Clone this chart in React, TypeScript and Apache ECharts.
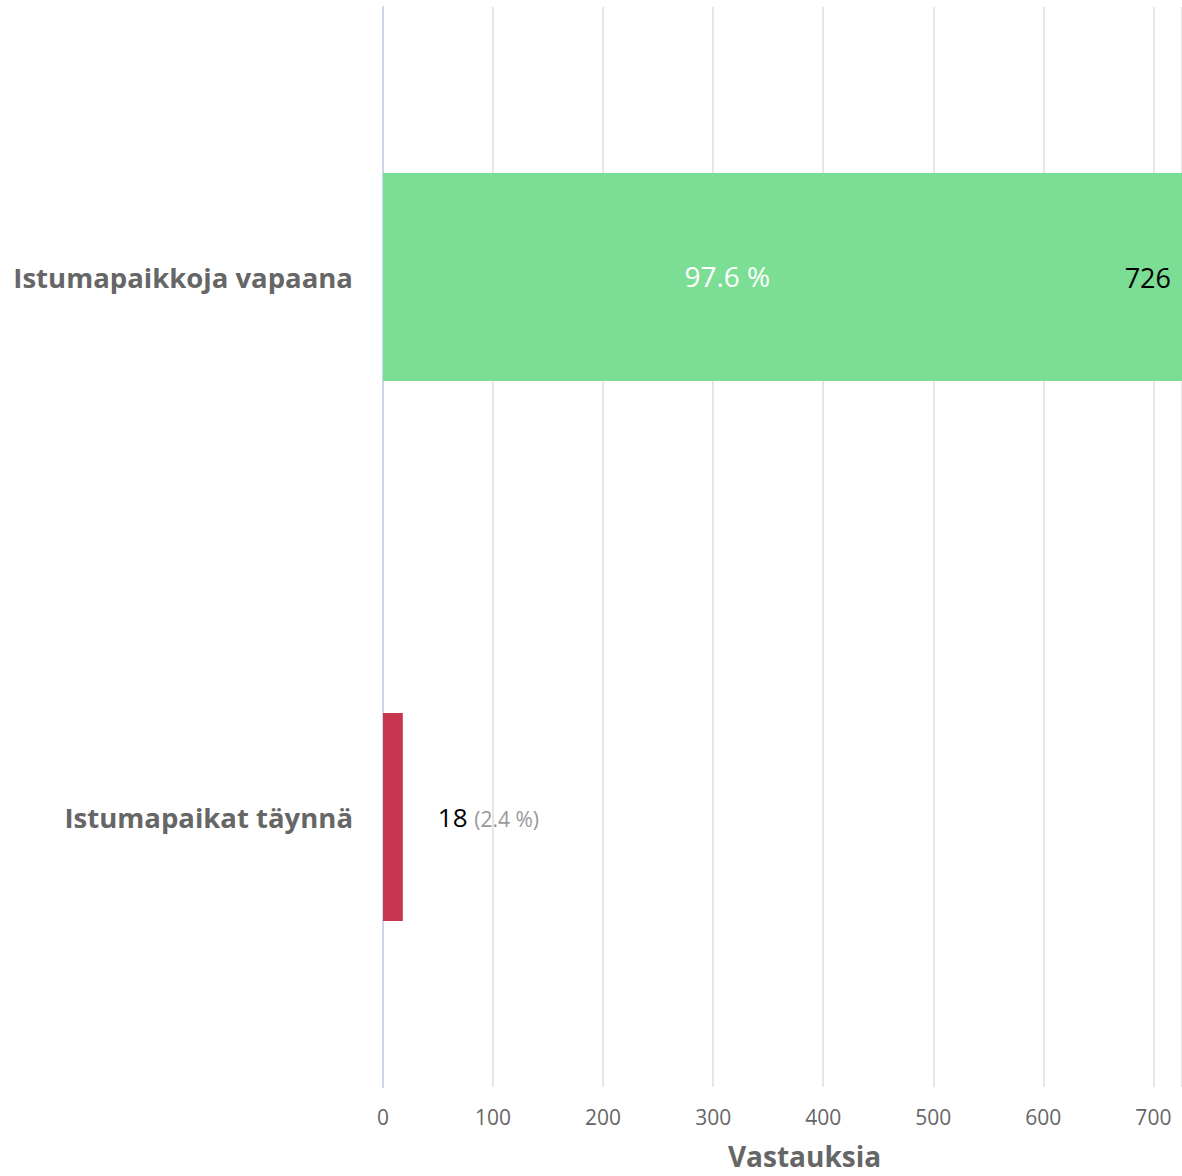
import React, { useEffect, useRef } from "react";
import * as echarts from "echarts";

const categories = ["Istumapaikkoja vapaana", "Istumapaikat täynnä"];
const values = [726, 18];
const percents = [97.6, 2.4];
const colors = ["#7bde94", "#c8354f"];
const xTicks = { min: 0, max: 726, interval: 100 };

export default function App() {
  const ref = useRef<HTMLDivElement>(null);
  useEffect(() => {
    const chart = echarts.init(ref.current!, null, { renderer: "svg" });
    const font = "'Open Sans', 'Noto Sans', sans-serif";
    const mainData = values.map((v, i) => ({
      value: v,
      itemStyle: { color: colors[i] },
      label:
        i === 0
          ? {
              show: true,
              position: "insideRight",
              distance: 11,
              formatter: String(v),
              color: "#000",
              fontSize: 27,
              fontFamily: font,
              padding: [0, 0, 4, 0],
            }
          : {
              show: true,
              position: "right",
              distance: 35,
              formatter: `${v} {p|(${percents[i]} %)}`,
              color: "#000",
              fontSize: 26,
              fontFamily: font,
              rich: { p: { color: "#999", fontSize: 21, fontFamily: font, padding: [4, 0, 0, 0] } },
            },
    }));
    const pctData = values.map((v, i) => ({
      value: v,
      label:
        i === 0
          ? {
              show: true,
              position: ["43.1%", "49.3%"],
              align: "center",
              verticalAlign: "middle",
              formatter: `${percents[i]} %`,
              color: "#fff",
              fontSize: 28,
              fontFamily: font,
            }
          : { show: false },
    }));
    chart.setOption({
      animation: false,
      grid: { left: 383, right: 0, top: 7, bottom: 89, containLabel: false },
      xAxis: {
        type: "value",
        min: xTicks.min,
        max: xTicks.max,
        interval: xTicks.interval,
        name: "Vastauksia",
        nameLocation: "middle",
        nameGap: 55,
        nameTextStyle: { color: "#666", fontSize: 28, fontWeight: "bold", fontFamily: font, padding: [0, 0, 0, 44] },
        axisLine: { show: false },
        axisTick: { show: false },
        axisLabel: { color: "#666", fontSize: 21, fontFamily: font, margin: 19, showMaxLabel: false },
        splitLine: { show: true, lineStyle: { color: "#e6e6e6", width: 2 } },
      },
      yAxis: {
        type: "category",
        data: categories,
        inverse: true,
        axisLine: { show: true, lineStyle: { color: "#ccd6eb", width: 2 } },
        axisTick: { show: false },
        axisLabel: { color: "#666", fontSize: 27.5, fontWeight: "bold", fontFamily: font, margin: 30, padding: [0, 0, 8, 0] },
        splitLine: { show: false },
      },
      series: [
        {
          type: "bar",
          data: mainData,
          barWidth: 208,
          z: 2,
        },
        {
          type: "bar",
          data: pctData,
          barWidth: 208,
          barGap: "-100%",
          itemStyle: { color: "rgba(0,0,0,0)" },
          z: 3,
          silent: true,
        },
      ],
    });
    return () => chart.dispose();
  }, []);
  return (
    <div
      ref={ref}
      style={{ position: "fixed", left: 0, top: 0, width: 1182, height: 1176, background: "#fff" }}
    />
  );
}
